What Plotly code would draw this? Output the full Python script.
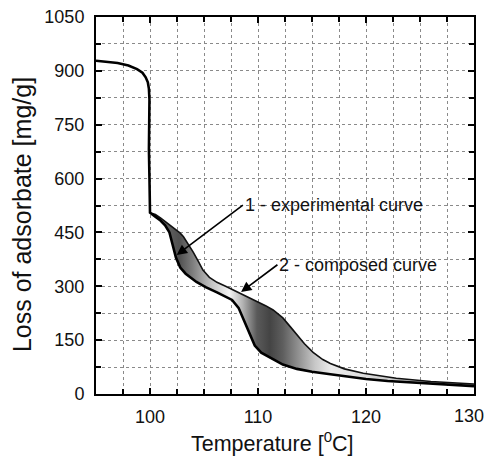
import plotly.graph_objects as go

# ---- data ----
exp_x = [95, 96, 97, 98, 98.8, 99.3, 99.6, 99.8, 99.9, 99.95, 99.92, 99.9, 99.95, 100.0,
         100.4, 100.9, 101.4, 101.8, 102.1, 102.4, 102.8, 103.3, 104.3, 105.2, 106.2, 107.0,
         107.6, 108.2, 108.7, 109.2, 109.7, 110.3, 111.1, 112.3, 113.6, 115.0, 116.7, 118.5,
         120.0, 122.0, 125.0, 130.0]
exp_y = [928, 926, 922, 915, 905, 895, 882, 868, 850, 820, 750, 680, 600, 505,
         496, 485, 470, 450, 415, 380, 352, 335, 312, 297, 283, 272,
         262, 240, 205, 165, 135, 115, 102, 82, 70, 62, 55, 47,
         42, 36, 30, 22]

comp_x = [100.0, 100.5, 101.0, 101.5, 102.0, 102.8, 103.1, 103.6, 104.0, 104.5, 104.9, 105.5,
          106.2, 107.0, 107.7, 108.4, 109.1, 109.9, 110.7, 111.4, 112.3, 113.0, 113.6, 114.3,
          115.1, 116.0, 116.7, 118.0, 119.75, 122.8, 126.0, 130.0]
comp_y = [505, 500, 490, 478, 465, 448, 438, 415, 395, 368, 345, 325,
          311, 300, 290, 280, 270, 258, 246, 234, 212, 187, 164, 140,
          116, 96, 85, 70, 58, 44, 35, 28]

x_ticks = [100, 110, 120, 130]
y_ticks = [0, 150, 300, 450, 600, 750, 900, 1050]

x_title = "Temperature [<sup>0</sup>C]"
y_title = "Loss of adsorbate [mg/g]"

labels = ["1 - experimental curve", "2 - composed curve"]
label_pos = [(108.6, 526), (111.8, 360)]
arrow_tip = [(102.47, 387), (108.43, 284)]

# ---- figure ----
k = next(i for i, v in enumerate(exp_y) if v <= 505)
band_x = comp_x + exp_x[k:][::-1]
band_y = comp_y + exp_y[k:][::-1]

fig = go.Figure()
fig.add_trace(go.Scatter(
    x=band_x, y=band_y, mode="lines", fill="toself",
    line=dict(width=0, color="rgba(0,0,0,0)"),
    fillgradient=dict(
        type="horizontal", start=100, stop=130,
        colorscale=[
            [0.0, "#7a7a7a"], [0.04, "#666666"], [0.09, "#505050"], [0.13, "#7c7c7c"],
            [0.19, "#c4c4c4"], [0.245, "#f2f2f2"], [0.285, "#b5b5b5"], [0.33, "#5a5a5a"],
            [0.37, "#444444"], [0.41, "#5e5e5e"], [0.46, "#939393"], [0.51, "#c8c8c8"],
            [0.56, "#ececec"], [0.66, "#dcdcdc"], [1.0, "#8c8c8c"],
        ],
    ),
    hoverinfo="skip", showlegend=False,
))
fig.add_trace(go.Scatter(x=comp_x, y=comp_y, mode="lines",
                         line=dict(color="#111111", width=1.6), showlegend=False))
fig.add_trace(go.Scatter(x=exp_x, y=exp_y, mode="lines",
                         line=dict(color="black", width=2.6), showlegend=False))

for txt, (lx, ly), (hx, hy) in zip(labels, label_pos, arrow_tip):
    fig.add_annotation(x=hx, y=hy, ax=lx, ay=ly, axref="x", ayref="y", xref="x", yref="y",
                       text=txt, showarrow=True, xanchor="left", yanchor="middle",
                       font=dict(size=18, color="#111111"), borderpad=1,
                       arrowhead=2, arrowsize=1.3, arrowwidth=1.6,
                       arrowcolor="black", standoff=0)

# last x tick label sits at the right edge: draw it right-aligned so it stays inside the page
fig.add_annotation(x=x_ticks[-1], y=-0.058, xref="x", yref="paper", text=str(x_ticks[-1]),
                   showarrow=False, xanchor="right", yanchor="middle", xshift=12,
                   font=dict(size=18, color="#111111"))

# axis titles
fig.add_annotation(x=0.466, y=-0.127, xref="paper", yref="paper", text=x_title,
                   showarrow=False, xanchor="center", yanchor="middle",
                   font=dict(size=21.5, color="#111111"))
fig.add_annotation(x=-0.196, y=0.477, xref="paper", yref="paper", text=y_title,
                   showarrow=False, xanchor="center", yanchor="middle", textangle=-90,
                   font=dict(size=25, color="#111111"))

grid = dict(showgrid=True, gridcolor="#8a8a8a", gridwidth=1, griddash="dot")
fig.update_xaxes(range=[95, 130], tickvals=x_ticks,
                 ticktext=[str(v) for v in x_ticks[:-1]] + [""], ticks="inside",
                 ticklen=6, tickwidth=1.5,
                 tickcolor="black", showline=True, linecolor="black", linewidth=2,
                 mirror="allticks", zeroline=False, ticklabelstandoff=5,
                 automargin=False,
                 tickfont=dict(size=18, color="#111111"),
                 minor=dict(dtick=2.5, tick0=95, ticks="inside", ticklen=5, tickwidth=1.5,
                            tickcolor="black", **grid),
                 **grid)
fig.update_yaxes(range=[0, 1050], tickvals=y_ticks, ticks="inside", ticklen=6, tickwidth=1.5,
                 tickcolor="black", showline=True, linecolor="black", linewidth=2,
                 mirror="allticks", zeroline=False, ticklabelstandoff=6,
                 ticklabeloverflow="allow", automargin=False,
                 tickfont=dict(size=18, color="#111111"),
                 minor=dict(dtick=75, tick0=0, ticks="inside", ticklen=5, tickwidth=1.5,
                            tickcolor="black", **grid),
                 **grid)
fig.update_layout(
    width=487, height=456,
    margin=dict(l=96, r=13, t=17, b=62),
    plot_bgcolor="white", paper_bgcolor="white",
    font=dict(family="Liberation Sans, Arial, sans-serif"),
    showlegend=False,
)
fig.write_html("out.html")
